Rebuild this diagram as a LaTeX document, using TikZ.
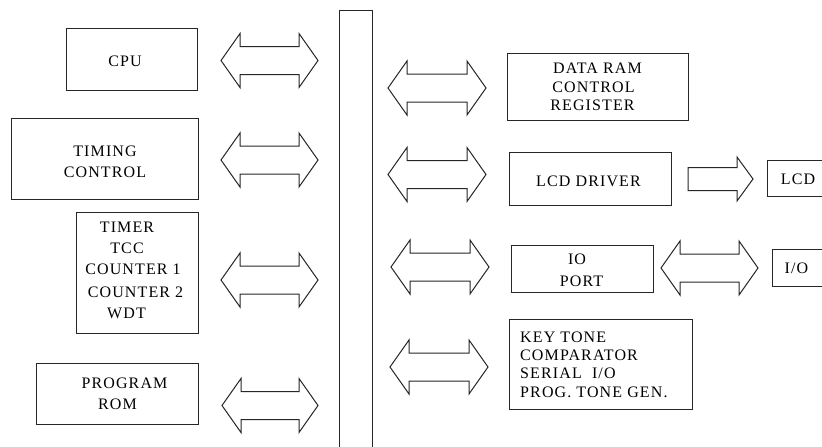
\documentclass[tikz,border=0pt]{standalone}
\usepackage{fontspec}
\setmainfont{Liberation Serif}[LetterSpace=7]
\begin{document}
\begin{tikzpicture}[x=1pt,y=-1pt,
  box/.style={draw=black!85,line width=1pt,rectangle,inner sep=0pt},
  arr/.style={draw=black!85,line width=1pt,line join=miter},
  txt/.style={anchor=base,inner sep=0pt,font=\fontsize{16}{19}\selectfont},
  txtl/.style={anchor=base west,inner sep=0pt,font=\fontsize{16}{19}\selectfont}]
\useasboundingbox (0,0) rectangle (822,447);
\clip (0,0) rectangle (822,447);
\fill[white] (0,0) rectangle (822,447);
% double arrow macro: x0, x1, cy
\newcommand\DArrow[3]{%
  \draw[arr] (#1,#3) -- (#1+19,#3-27) -- (#1+19,#3-14) -- (#2-19,#3-14) -- (#2-19,#3-27)
   -- (#2,#3) -- (#2-19,#3+27) -- (#2-19,#3+14) -- (#1+19,#3+14) -- (#1+19,#3+27) -- cycle;}
% boxes
\node[box,minimum width=131,minimum height=62] (cpu) at (131.5,59) {};
\node[box,minimum width=187,minimum height=81] (timing) at (104.5,158.5) {};
\node[box,minimum width=122,minimum height=121] (timer) at (137,272.5) {};
\node[box,minimum width=162,minimum height=61] (rom) at (117,393.5) {};
\node[box,minimum width=33,minimum height=470] (bus) at (355.5,245) {};
\node[box,minimum width=181,minimum height=67] (ram) at (597.5,86.5) {};
\node[box,minimum width=162,minimum height=53] (lcddrv) at (590,178.5) {};
\node[box,minimum width=142,minimum height=47] (ioport) at (582,268.5) {};
\node[box,minimum width=183,minimum height=90] (key) at (600.5,364) {};
\node[box,minimum width=80,minimum height=36] (lcd) at (807,178) {};
\node[box,minimum width=80,minimum height=37] (io) at (812,267.5) {};
% texts
\node[txt] (t1) at (125,66) {CPU};
\node[txt] (t2) at (105,156) {TIMING};
\node[txt] (t3) at (105,177) {CONTROL};
\node[txt] (t4) at (127,232) {TIMER};
\node[txt] (t5) at (127,253) {TCC};
\node[txt] (t6) at (133,274) {COUNTER 1};
\node[txt] (t7) at (135.5,297) {COUNTER 2};
\node[txt] (t8) at (126.5,318) {WDT};
\node[txt] (t9) at (124.5,388) {PROGRAM};
\node[txt] (t10) at (117.5,409) {ROM};
\node[txt] (t11) at (597.5,73) {DATA RAM};
\node[txt] (t12) at (593.5,92) {CONTROL};
\node[txt] (t13) at (592.5,110) {REGISTER};
\node[txt] (t14) at (588.5,186) {LCD DRIVER};
\node[txt] (t15) at (577,264) {IO};
\node[txt] (t16) at (581.5,286) {PORT};
\node[txtl] (t17) at (520,342) {KEY TONE};
\node[txtl] (t18) at (520,360) {COMPARATOR};
\node[txtl] (t19) at (520,378) {SERIAL\ \ I/O};
\node[txtl] (t20) at (520,397) {PROG. TONE GEN.};
\node[txt] (t21) at (798,184) {LCD};
\node[txt] (t22) at (796.5,273) {I/O};
% arrows
\DArrow{221}{318}{60.5}
\DArrow{221}{318}{160}
\DArrow{221}{318}{280}
\DArrow{222}{318}{405.5}
\DArrow{388}{486}{88}
\DArrow{388}{486}{174.5}
\DArrow{391}{489}{267}
\DArrow{390}{488}{367}
\DArrow{661}{758}{268}
\draw[arr] (688,167.5) -- (737,167.5) -- (737,157) -- (753,179) -- (737,201) -- (737,190.5) -- (688,190.5) -- cycle;
\end{tikzpicture}
\end{document}
